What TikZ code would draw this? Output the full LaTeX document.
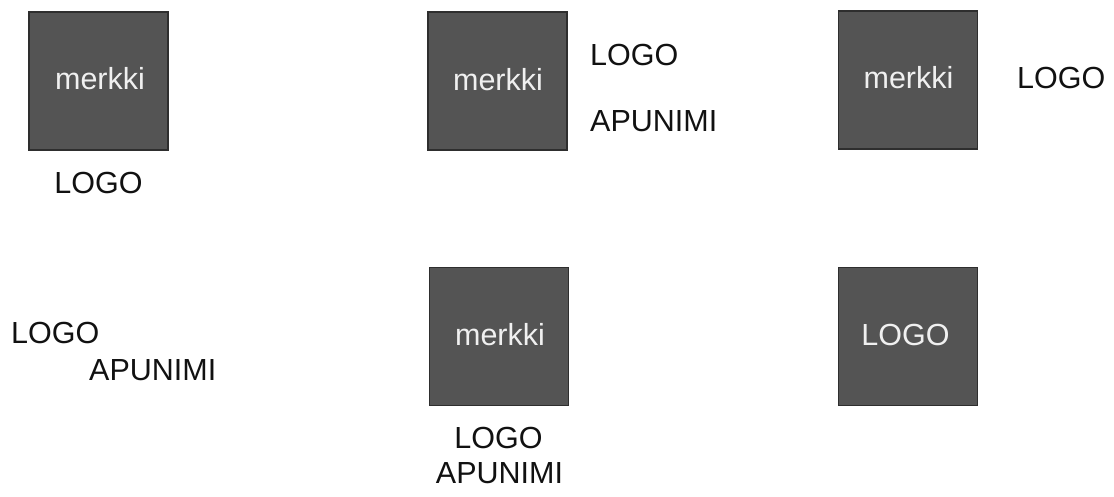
\documentclass[tikz,border=0pt]{standalone}
\usepackage{fontspec}
\setmainfont{Liberation Sans}
\definecolor{boxfill}{HTML}{545454}
\definecolor{boxline}{HTML}{2E2E2E}
\definecolor{boxtext}{HTML}{F0F0F0}
\definecolor{lbltext}{HTML}{111111}
\begin{document}
\begin{tikzpicture}[x=1pt,y=-1pt,
  box/.style={draw=boxline, fill=boxfill, line width=1.3pt, minimum width=139pt, minimum height=138pt, inner sep=0pt},
  intext/.style={text=boxtext, font=\fontsize{30.5}{36}\selectfont, inner sep=0pt, anchor=base},
  lbl/.style={text=lbltext, font=\fontsize{30.5}{36}\selectfont, inner sep=0pt}]
\useasboundingbox (0,0) rectangle (1114,496);
% boxes
\node[box] (b1) at (98.5,81) {};
\node[box] (b2) at (497.5,81) {};
\node[box] (b3) at (908,80) {};
\node[box] (b4) at (499,336.5) {};
\node[box] (b5) at (908,336.5) {};
% texts inside boxes
\node[intext] (t1) at (100,89) {merkki};
\node[intext] (t2) at (498,90) {merkki};
\node[intext] (t3) at (908.5,88) {merkki};
\node[intext] (t4) at (500,345) {merkki};
\node[intext] (t5) at (905.5,345) {LOGO};
% outside labels
\node[lbl, anchor=base] (l1) at (98.5,193) {LOGO};
\node[lbl, anchor=base west] (l2) at (590,65) {LOGO};
\node[lbl, anchor=base west] (l3) at (590,131.5) {APUNIMI};
\node[lbl, anchor=base west] (l4) at (1017,88) {LOGO};
\node[lbl, anchor=base west] (l5) at (11,343) {LOGO};
\node[lbl, anchor=base west] (l6) at (89,380) {APUNIMI};
\node[lbl, anchor=base] (l7) at (498.5,448) {LOGO};
\node[lbl, anchor=base] (l8) at (499.5,483) {APUNIMI};
\end{tikzpicture}
\end{document}
